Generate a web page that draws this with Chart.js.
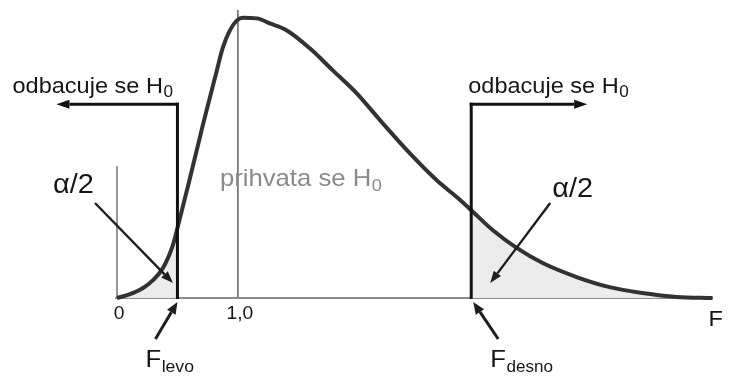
<!DOCTYPE html>
<html>
<head>
<meta charset="utf-8">
<script src="https://cdn.jsdelivr.net/npm/chart.js@4/dist/chart.umd.min.js"></script>
<style>
  html, body { margin: 0; padding: 0; background: #ffffff; }
  canvas { display: block; }
</style>
</head>
<body>
<canvas id="chart" width="733" height="383"></canvas>
<script>
// F distribution density (relative height) sampled along the F axis
const fValues = [0, 0.107, 0.215, 0.298, 0.380, 0.463, 0.50, 0.587, 0.669, 0.711, 0.769, 0.826, 0.876, 0.934, 0.992, 1.041, 1.157, 1.264, 1.405, 1.595, 1.785, 1.983, 2.198, 2.421, 2.645, 2.810, 2.93, 3.107, 3.306, 3.521, 3.802, 4.074, 4.347, 4.628, 4.926];
const density = [0, 0.014, 0.036, 0.064, 0.107, 0.19, 0.25, 0.40, 0.545, 0.62, 0.718, 0.814, 0.896, 0.957, 0.993, 1.002, 1.0, 0.982, 0.957, 0.893, 0.814, 0.732, 0.625, 0.518, 0.421, 0.361, 0.314, 0.243, 0.179, 0.125, 0.075, 0.039, 0.018, 0.004, 0];

// critical values
const F_LEVO = 0.5;
const F_DESNO = 2.93;

// axis ticks
const tickValues = [0, 1];
const tickLabels = ['0', '1,0'];
const axisTitle = 'F';

// annotation texts
const rejectText = 'odbacuje se H';
const acceptText = 'prihvata se H';
const alphaText = '\u03B1/2';

const curve = fValues.map((x, i) => ({ x: x, y: density[i] }));
const leftTail = curve.filter(p => p.x <= F_LEVO);
const rightTail = curve.filter(p => p.x >= F_DESNO);

const FONT = '"Liberation Sans", Arial, Helvetica, sans-serif';
const STRETCH = 1.07;

function textWidth(ctx, t, size) {
  ctx.font = size + 'px ' + FONT;
  return ctx.measureText(t).width * STRETCH;
}
function drawText(ctx, t, x, y, size, color, align) {
  const w = textWidth(ctx, t, size);
  let sx = x;
  if (align === 'center') sx = x - w / 2;
  ctx.save();
  ctx.fillStyle = color;
  ctx.textBaseline = 'alphabetic';
  ctx.textAlign = 'left';
  ctx.translate(sx, y);
  ctx.scale(STRETCH, 1);
  ctx.fillText(t, 0, 0);
  ctx.restore();
  return sx + w;
}
function drawSub(ctx, main, sub, x, y, size, subSize, drop, color) {
  const end = drawText(ctx, main, x, y, size, color);
  return drawText(ctx, sub, end + 0.5, y + drop, subSize, color);
}
function arrow(ctx, x1, y1, x2, y2, lw, headLen, headHalf, color) {
  const ang = Math.atan2(y2 - y1, x2 - x1);
  const bx = x2 - headLen * Math.cos(ang);
  const by = y2 - headLen * Math.sin(ang);
  ctx.save();
  ctx.strokeStyle = color;
  ctx.fillStyle = color;
  ctx.lineWidth = lw;
  ctx.beginPath();
  ctx.moveTo(x1, y1);
  ctx.lineTo(bx, by);
  ctx.stroke();
  ctx.beginPath();
  ctx.moveTo(x2, y2);
  ctx.lineTo(bx + headHalf * Math.sin(ang), by - headHalf * Math.cos(ang));
  ctx.lineTo(bx - headHalf * Math.sin(ang), by + headHalf * Math.cos(ang));
  ctx.closePath();
  ctx.fill();
  ctx.restore();
}
function line(ctx, x1, y1, x2, y2, lw, color) {
  ctx.save();
  ctx.strokeStyle = color;
  ctx.lineWidth = lw;
  ctx.lineCap = 'butt';
  ctx.beginPath();
  ctx.moveTo(x1, y1);
  ctx.lineTo(x2, y2);
  ctx.stroke();
  ctx.restore();
}

const Y_AXIS_TOP = 0.471;   // short vertical guide at F = 0
const MODE_LINE_TOP = 1.03; // guide at F = 1,0
const BRACKET_TOP = 0.693;  // height of the rejection brackets

const decorations = {
  id: 'decorations',
  beforeDatasetsDraw(chart) {
    const ctx = chart.ctx;
    const xs = chart.scales.x, ys = chart.scales.y;
    const y0 = ys.getPixelForValue(0);
    // guides at 0 and 1,0
    line(ctx, xs.getPixelForValue(0), y0, xs.getPixelForValue(0), ys.getPixelForValue(Y_AXIS_TOP), 1.6, '#7a7a7a');
    line(ctx, xs.getPixelForValue(1), y0, xs.getPixelForValue(1), ys.getPixelForValue(MODE_LINE_TOP), 1.6, '#6a6a6a');
    // F axis
    line(ctx, xs.left - 2, y0, xs.right, y0, 2.2, '#8c8c8c');
  },
  afterDatasetsDraw(chart) {
    const ctx = chart.ctx;
    const xs = chart.scales.x, ys = chart.scales.y;
    const y0 = ys.getPixelForValue(0);
    const yTop = ys.getPixelForValue(BRACKET_TOP);
    const xL = xs.getPixelForValue(F_LEVO);
    const xR = xs.getPixelForValue(F_DESNO);
    const x0 = xs.getPixelForValue(0);
    const x1 = xs.getPixelForValue(1);

    // rejection brackets
    line(ctx, xL, y0 + 1, xL, yTop - 1.5, 3, '#111');
    arrow(ctx, xL + 1.5, yTop, xL - 121, yTop, 3, 13, 4.5, '#111');
    line(ctx, xR, y0 + 1, xR, yTop - 1.5, 3, '#111');
    arrow(ctx, xR - 1.5, yTop, xR + 116, yTop, 3, 13, 4.5, '#111');

    // alpha/2 pointers
    arrow(ctx, x0 - 22, y0 - 95, xL - 4.5, y0 - 15, 2.4, 12, 4.5, '#1e1e1e');
    arrow(ctx, xR + 79, y0 - 95, xR + 19, y0 - 15, 2.4, 12, 4.5, '#1e1e1e');

    // pointers to the critical values
    arrow(ctx, xL - 22, y0 + 41, xL, y0 + 4, 3, 12, 5, '#1e1e1e');
    arrow(ctx, xR + 27, y0 + 41, xR + 2, y0 + 4, 3, 12, 5, '#1e1e1e');

    // texts
    const dark = '#161616';
    drawSub(ctx, rejectText, '0', xL - 165, yTop - 11.5, 22, 16, 4.5, dark);
    drawSub(ctx, rejectText, '0', xR - 3, yTop - 11.5, 22, 16, 4.5, dark);
    drawSub(ctx, acceptText, '0', x1 - 18, y0 - 112, 24, 17, 5, '#8a8a8a');
    drawText(ctx, alphaText, x0 - 64, y0 - 105, 27, dark);
    drawText(ctx, alphaText, xR + 81, y0 - 101, 27, dark);

    tickValues.forEach((v, i) => {
      drawText(ctx, tickLabels[i], xs.getPixelForValue(v) + 2, y0 + 21, 18, dark, 'center');
    });
    drawText(ctx, axisTitle, xs.right - 4.5, y0 + 28, 22, dark);

    drawSub(ctx, 'F', 'levo', xL - 32, y0 + 69, 24, 16.5, 5, dark);
    drawSub(ctx, 'F', 'desno', xR + 19, y0 + 69, 24, 16, 5, dark);
  }
};

new Chart(document.getElementById('chart'), {
  type: 'line',
  data: {
    datasets: [
      {
        label: 'F',
        data: curve,
        borderColor: '#323232',
        borderWidth: 4,
        pointRadius: 0,
        fill: false,
        cubicInterpolationMode: 'monotone',
        clip: false
      },
      {
        label: 'levo',
        data: leftTail,
        borderWidth: 0,
        borderColor: 'rgba(0,0,0,0)',
        backgroundColor: '#ececec',
        pointRadius: 0,
        fill: 'origin',
        cubicInterpolationMode: 'monotone'
      },
      {
        label: 'desno',
        data: rightTail,
        borderWidth: 0,
        borderColor: 'rgba(0,0,0,0)',
        backgroundColor: '#ececec',
        pointRadius: 0,
        fill: 'origin',
        cubicInterpolationMode: 'monotone'
      }
    ]
  },
  options: {
    responsive: false,
    animation: false,
    layout: { padding: { left: 117, right: 20, top: 10, bottom: 85 } },
    scales: {
      x: { type: 'linear', min: 0, max: 4.93, display: false },
      y: { type: 'linear', min: 0, max: 1.03, display: false }
    },
    plugins: {
      legend: { display: false },
      tooltip: { enabled: false }
    }
  },
  plugins: [decorations]
});
</script>
</body>
</html>
